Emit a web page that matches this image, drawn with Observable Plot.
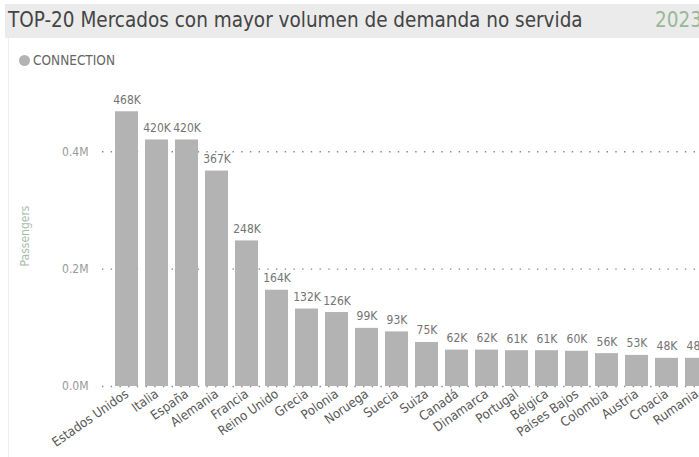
<!DOCTYPE html>
<html>
<head>
<meta charset="utf-8">
<script src="https://cdn.jsdelivr.net/npm/d3@7"></script>
<script src="https://cdn.jsdelivr.net/npm/@observablehq/plot@0.6"></script>
<style>
  html, body { margin: 0; padding: 0; background: #fff; overflow: hidden; }
  #wrap { position: relative; width: 699px; height: 457px; overflow: hidden; font-family: "DejaVu Sans Condensed", "DejaVu Sans", sans-serif; }
  #band { position: absolute; left: 5px; top: 4px; width: 720px; height: 34px; background: #ebebeb; }
  #title { position: absolute; left: 8px; top: 8px; font-size: 20.5px; color: #444; white-space: nowrap; }
  #year { position: absolute; left: 655px; top: 8px; font-size: 20.5px; color: #98b898; white-space: nowrap; }
  #border { position: absolute; left: 8px; top: 38px; width: 1px; height: 419px; background: #eeeeee; }
  #legend { position: absolute; left: 19px; top: 52px; font-size: 13.5px; color: #666; white-space: nowrap; display: flex; align-items: center; }
  #legend .dot { width: 11px; height: 11px; border-radius: 50%; background: #b3b3b3; margin-right: 3px; }
  #ylabel { position: absolute; left: 25px; top: 236px; font-size: 12px; color: #a8bca8; transform: translate(-50%, -50%) rotate(-90deg); white-space: nowrap; }
  #chart { position: absolute; left: 0; top: 0; }
  #chart svg { max-width: none !important; }
</style>
</head>
<body>
<div id="wrap">
  <div id="band"></div>
  <div id="title">TOP-20 Mercados con mayor volumen de demanda no servida</div>
  <div id="year">2023</div>
  <div id="border"></div>
  <div id="legend"><span class="dot"></span>CONNECTION</div>
  <div id="chart"></div>
  <div id="ylabel">Passengers</div>
</div>
<script>
const countries = ["Estados Unidos","Italia","España","Alemania","Francia","Reino Unido","Grecia","Polonia","Noruega","Suecia","Suiza","Canadá","Dinamarca","Portugal","Bélgica","Países Bajos","Colombia","Austria","Croacia","Rumania"];
const passengers = [468000,420000,420000,367000,248000,164000,132000,126000,99000,93000,75000,62000,62000,61000,61000,60000,56000,53000,48000,48000];
const yTicks = [0, 200000, 400000];

const data = countries.map((c, i) => ({country: c, value: passengers[i]}));
const fmtK = v => Math.round(v / 1000) + "K";
const fmtM = v => (v / 1e6).toFixed(1) + "M";

const chart = Plot.plot({
  width: 720,
  height: 457,
  marginLeft: 102,
  marginRight: 0,
  marginTop: 92.5,
  marginBottom: 71,
  style: {fontFamily: "'DejaVu Sans Condensed', 'DejaVu Sans', sans-serif", background: "transparent", overflow: "visible", maxWidth: "none"},
  x: {domain: countries, range: [111.5, 711.5], paddingInner: 0.23, paddingOuter: 0.115, label: null},
  y: {domain: [0, 500000], label: null},
  marks: [
    Plot.ruleY(yTicks, {stroke: "#888", strokeWidth: 1.4, strokeDasharray: "1.4,7.3"}),
    Plot.barY(data, {x: "country", y: "value", fill: "#b3b3b3"}),
    Plot.text(data, {x: "country", y: "value", text: d => fmtK(d.value), lineAnchor: "bottom", dy: -8, fill: "#747474", fontSize: 12}),
    Plot.axisY({ticks: yTicks, tickFormat: fmtM, tickSize: 0, tickPadding: 14, fontSize: 12, color: "#999", label: null}),
    Plot.axisX({tickSize: 0, tickPadding: 6, tickRotate: -35, fontSize: 13, color: "#585858", label: null})
  ]
});
document.getElementById("chart").appendChild(chart);
</script>
</body>
</html>
